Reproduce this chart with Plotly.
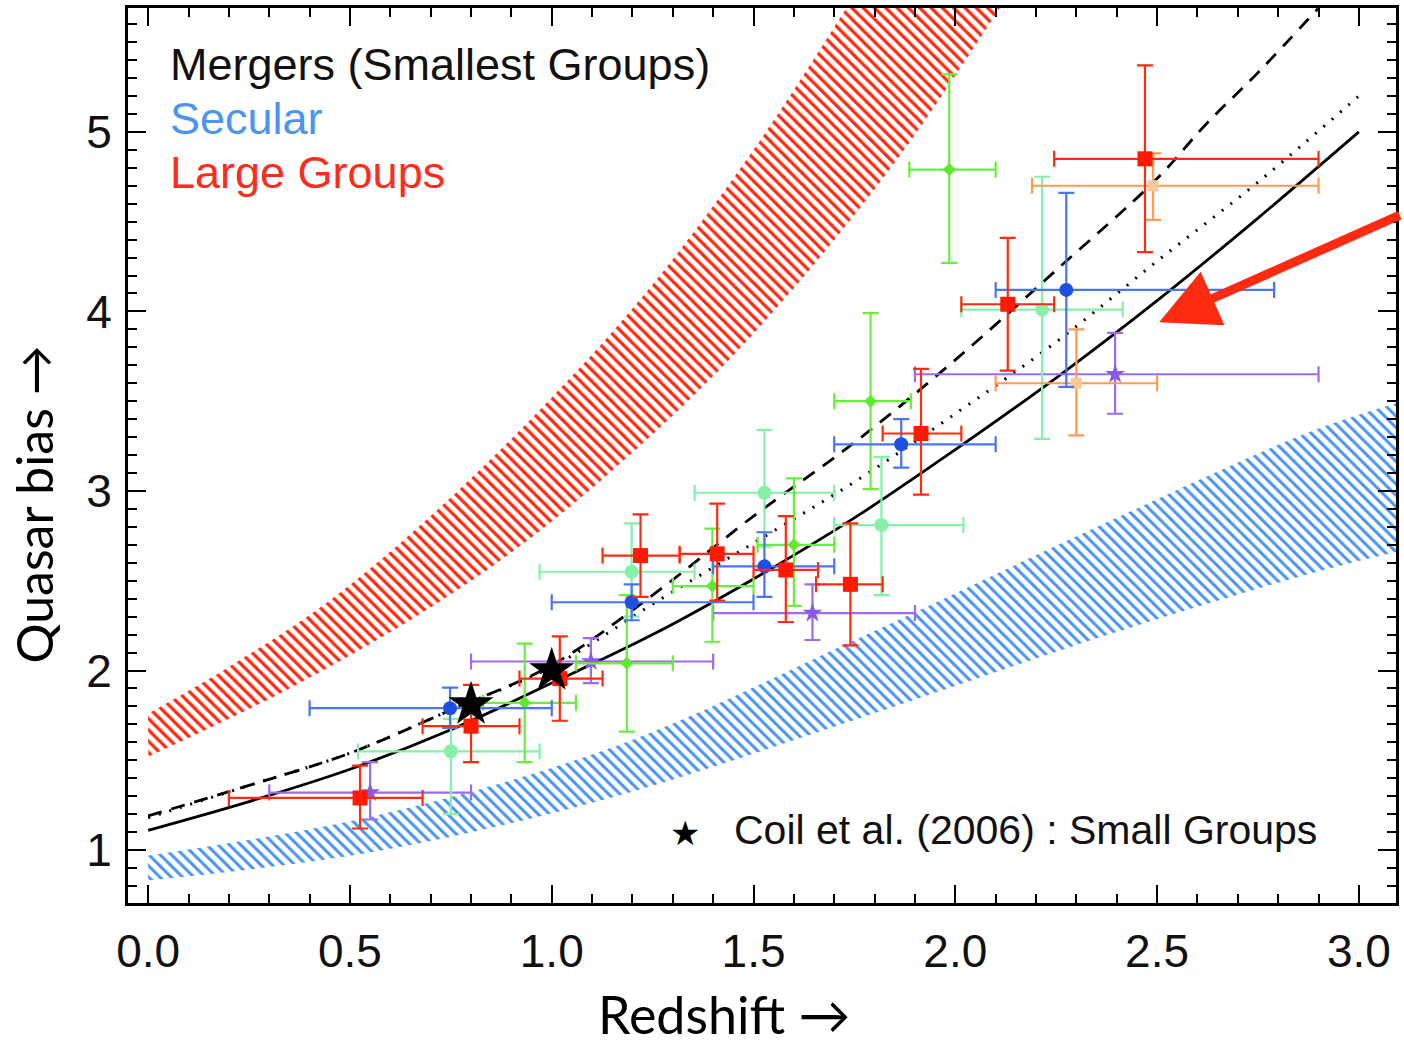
import plotly.graph_objects as go

# ---------------- data ----------------
# model curves (redshift, bias)
solid_z = [0.0, 0.25, 0.5, 0.75, 1.0, 1.25, 1.5, 1.75, 2.0, 2.25, 2.5, 2.75, 3.0]
solid_b = [1.11, 1.27, 1.45, 1.67, 1.93, 2.20, 2.51, 2.85, 3.23, 3.63, 4.06, 4.52, 5.0]

dotted_z = [0.0, 0.25, 0.5, 0.75, 1.0, 1.25, 1.5, 1.75, 2.0, 2.25, 2.5, 2.75, 3.0]
dotted_b = [1.18, 1.36, 1.54, 1.78, 2.02, 2.37, 2.71, 3.05, 3.43, 3.83, 4.28, 4.72, 5.2]

dashed_z = [0.0, 0.25, 0.5, 0.75, 1.0, 1.25, 1.5, 1.75, 2.0, 2.25, 2.5, 2.62, 2.75, 2.9]
dashed_b = [1.19, 1.36, 1.54, 1.78, 2.03, 2.42, 2.86, 3.27, 3.73, 4.23, 4.74, 5.04, 5.33, 5.69]

# hatched bands
red_lo_z = [0.0, 0.35, 0.72, 1.0, 1.36, 1.6, 1.86, 2.11]
red_lo_b = [1.52, 1.90, 2.38, 2.83, 3.55, 4.13, 4.86, 5.69]
red_hi_z = [0.0, 0.2, 0.45, 0.7, 1.0, 1.25, 1.5, 1.73]
red_hi_b = [1.76, 2.02, 2.39, 2.86, 3.52, 4.15, 4.90, 5.69]

blue_lo_z = [0.0, 0.56, 1.16, 1.77, 2.38, 2.88, 3.11]
blue_lo_b = [0.83, 0.99, 1.30, 1.74, 2.20, 2.54, 2.67]
blue_hi_z = [0.0, 0.56, 1.16, 1.77, 2.38, 2.88, 3.11]
blue_hi_b = [0.97, 1.19, 1.58, 2.19, 2.83, 3.33, 3.50]

# data points: z, bias, z-range, bias-range
red_z = [0.525, 0.80, 1.02, 1.22, 1.41, 1.58, 1.74, 1.915, 2.13, 2.47]
red_b = [1.29, 1.69, 1.955, 2.64, 2.65, 2.56, 2.48, 3.32, 4.04, 4.85]
red_zlo = [0.20, 0.68, 0.92, 1.126, 1.317, 1.50, 1.655, 1.82, 2.015, 2.245]
red_zhi = [0.68, 0.92, 1.126, 1.317, 1.50, 1.66, 1.82, 2.015, 2.245, 2.90]
red_blo = [1.12, 1.49, 1.72, 2.41, 2.39, 2.27, 2.14, 2.98, 3.67, 4.33]
red_bhi = [1.47, 1.92, 2.19, 2.87, 2.93, 2.86, 2.82, 3.68, 4.41, 5.37]

orange_z = [2.49, 2.30]
orange_b = [4.70, 3.60]
orange_zlo = [2.19, 2.10]
orange_zhi = [2.90, 2.50]
orange_blo = [4.51, 3.31]
orange_bhi = [4.88, 3.90]

blue_z = [0.748, 1.198, 1.527, 1.866, 2.275]
blue_b = [1.79, 2.38, 2.58, 3.26, 4.12]
blue_zlo = [0.40, 1.00, 1.40, 1.70, 2.10]
blue_zhi = [1.00, 1.50, 1.70, 2.10, 2.79]
blue_blo = [1.68, 2.28, 2.41, 3.13, 3.58]
blue_bhi = [1.905, 2.48, 2.77, 3.40, 4.66]

mint_z = [0.75, 1.198, 1.527, 1.817, 2.215]
mint_b = [1.55, 2.55, 2.99, 2.81, 4.01]
mint_zlo = [0.52, 0.97, 1.354, 1.70, 2.015]
mint_zhi = [0.97, 1.354, 1.70, 2.02, 2.415]
mint_blo = [1.20, 2.30, 2.69, 2.42, 3.29]
mint_bhi = [1.73, 2.82, 3.34, 3.19, 4.75]

green_z = [0.933, 1.186, 1.398, 1.60, 1.79, 1.985]
green_b = [1.82, 2.04, 2.47, 2.70, 3.50, 4.79]
green_zlo = [0.83, 1.06, 1.30, 1.51, 1.70, 1.886]
green_zhi = [1.06, 1.30, 1.50, 1.70, 1.89, 2.10]
green_blo = [1.49, 1.66, 2.16, 2.36, 3.01, 4.27]
green_bhi = [2.15, 2.42, 2.79, 3.07, 3.99, 5.32]

purple_z = [0.55, 1.097, 1.646, 2.396]
purple_b = [1.32, 2.05, 2.32, 3.65]
purple_zlo = [0.30, 0.80, 1.40, 1.90]
purple_zhi = [0.80, 1.40, 1.90, 2.90]
purple_blo = [1.17, 1.93, 2.17, 3.43]
purple_bhi = [1.49, 2.18, 2.48, 3.88]

coil_z = [0.80, 1.00]
coil_b = [1.81, 2.00]

legend_labels = ["Mergers (Smallest Groups)", "Secular", "Large Groups"]
coil_label = "Coil et al. (2006) : Small Groups"
x_title = "Redshift \u2192"
y_title = "Quasar bias \u2192"

# ---------------- figure ----------------
fig = go.Figure()


def band(lo_z, lo_b, hi_z, hi_b, color, size, solidity):
    fig.add_trace(go.Scatter(
        x=lo_z, y=lo_b, mode="lines", line_shape="spline",
        line=dict(width=0, color="rgba(0,0,0,0)"),
        hoverinfo="skip", showlegend=False))
    fig.add_trace(go.Scatter(
        x=hi_z, y=hi_b, mode="lines", fill="tonexty", line_shape="spline",
        line=dict(width=0, color="rgba(0,0,0,0)"),
        fillcolor="rgba(0,0,0,0)",
        fillpattern=dict(shape="\\", fgcolor=color, bgcolor="rgba(0,0,0,0)",
                         fgopacity=1, size=size, solidity=solidity,
                         fillmode="overlay"),
        hoverinfo="skip", showlegend=False))


band(red_lo_z, red_lo_b, red_hi_z, red_hi_b, "#ff2a10", 8, 0.4)
band(blue_lo_z, blue_lo_b, blue_hi_z, blue_hi_b, "#4a94f0", 8, 0.38)

fig.add_trace(go.Scatter(x=solid_z, y=solid_b, mode="lines", line_shape="spline",
                         line=dict(color="black", width=2.8), showlegend=False))
fig.add_trace(go.Scatter(x=dotted_z, y=dotted_b, mode="lines", line_shape="spline",
                         line=dict(color="black", width=3, dash="2px,9px"), showlegend=False))
fig.add_trace(go.Scatter(x=dashed_z, y=dashed_b, mode="lines", line_shape="spline",
                         line=dict(color="black", width=2.8, dash="14px,10px"), showlegend=False))


def points(z, b, zlo, zhi, blo, bhi, color, ecolor, symbol, size):
    fig.add_trace(go.Scatter(
        x=z, y=b, mode="markers",
        marker=dict(symbol=symbol, size=size, color=color, line=dict(width=0)),
        error_x=dict(type="data", symmetric=False,
                     array=[h - v for h, v in zip(zhi, z)],
                     arrayminus=[v - l for l, v in zip(zlo, z)],
                     color=ecolor, thickness=2.2, width=8),
        error_y=dict(type="data", symmetric=False,
                     array=[h - v for h, v in zip(bhi, b)],
                     arrayminus=[v - l for l, v in zip(blo, b)],
                     color=ecolor, thickness=2.2, width=8),
        showlegend=False))


points(purple_z, purple_b, purple_zlo, purple_zhi, purple_blo, purple_bhi,
       "#8a5ae0", "#9a6cf0", "star", 15)
points(mint_z, mint_b, mint_zlo, mint_zhi, mint_blo, mint_bhi,
       "#86f0a8", "#86f0a8", "circle", 14)
points(green_z, green_b, green_zlo, green_zhi, green_blo, green_bhi,
       "#5ee830", "#6aee3c", "diamond", 10)
points(orange_z, orange_b, orange_zlo, orange_zhi, orange_blo, orange_bhi,
       "#ffc89a", "#ff9a50", "square", 11)
points(blue_z, blue_b, blue_zlo, blue_zhi, blue_blo, blue_bhi,
       "#1f4fe0", "#4a74f0", "circle", 14)
points(red_z, red_b, red_zlo, red_zhi, red_blo, red_bhi,
       "#ff1a00", "#ff2a10", "square", 15)

fig.add_trace(go.Scatter(x=coil_z, y=coil_b, mode="markers",
                         marker=dict(symbol="star", size=34, color="black"),
                         showlegend=False))

# ---------------- axes ----------------
tickfont = dict(family="Liberation Sans, Arial, sans-serif", size=46, color="#111")
common = dict(showline=True, linewidth=3, linecolor="black", mirror="allticks",
              ticks="inside", tickwidth=2, tickcolor="black", ticklen=18,
              showgrid=False, zeroline=False, tickfont=tickfont)
fig.update_xaxes(range=[-0.05, 3.092], tick0=0, dtick=0.5, tickformat=".1f",
                 minor=dict(ticks="inside", ticklen=9, dtick=0.1, tickwidth=1.5,
                            tickcolor="black", showgrid=False),
                 ticklabelstandoff=6, **common)
fig.update_yaxes(range=[0.705, 5.69], tick0=0, dtick=1,
                 minor=dict(ticks="inside", ticklen=9, dtick=0.1, tickwidth=1.5,
                            tickcolor="black", showgrid=False),
                 ticklabelstandoff=4, **common)

W, H = 1404, 1047
L, R, T, B = 128, 6, 5, 144
pw, ph = W - L - R, H - T - B


def px(xp):
    return (xp - L) / pw


def py(yp):
    return (H - B - yp) / ph


annots = []
label_colors = ["#111111", "#4d94f0", "#ff2b1c"]
label_y = [62, 116, 170]
for txt, col, yy in zip(legend_labels, label_colors, label_y):
    annots.append(dict(text=txt, xref="paper", yref="paper", x=px(168), y=py(yy),
                       xanchor="left", yanchor="middle", showarrow=False,
                       font=dict(family="Liberation Sans, Arial, sans-serif", size=45, color=col)))
annots.append(dict(text="\u2605", xref="paper", yref="paper", x=px(686), y=py(833),
                   xanchor="center", yanchor="middle", showarrow=False,
                   font=dict(family="DejaVu Sans", size=34, color="black")))
annots.append(dict(text=coil_label, xref="paper", yref="paper", x=px(733), y=py(830),
                   xanchor="left", yanchor="middle", showarrow=False,
                   font=dict(family="Liberation Sans, Arial, sans-serif", size=41, color="#111")))
annots.append(dict(text=x_title, xref="paper", yref="paper", x=px(725), y=py(1014),
                   xanchor="center", yanchor="middle", showarrow=False,
                   font=dict(family="Lato, sans-serif", size=52, color="black")))
annots.append(dict(text=y_title, xref="paper", yref="paper", x=px(34), y=py(503),
                   xanchor="center", yanchor="middle", showarrow=False, textangle=-90,
                   font=dict(family="Lato, sans-serif", size=50, color="black")))
# red arrow
annots.append(dict(x=2.505, y=3.94, ax=3.105, ay=4.54, xref="x", yref="y",
                   axref="x", ayref="y", text="", showarrow=True,
                   arrowhead=2, arrowsize=1.3, arrowwidth=9, arrowcolor="#ff2a10",
                   standoff=0))

fig.update_layout(width=W, height=H, margin=dict(l=L, r=R, t=T, b=B, pad=0),
                  plot_bgcolor="white", paper_bgcolor="white",
                  annotations=annots, showlegend=False)

fig.write_html("out.html")
